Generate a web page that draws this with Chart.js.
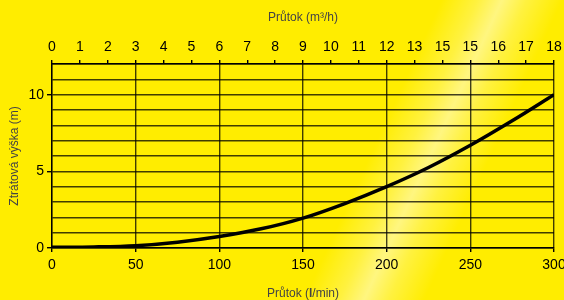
<!DOCTYPE html>
<html>
<head>
<meta charset="utf-8">
<script src="https://cdn.jsdelivr.net/npm/chart.js@4"></script>
<style>
  html, body { margin: 0; padding: 0; background: #ffed00; }
  #wrap { width: 564px; height: 300px; position: relative; }
</style>
</head>
<body>
<div id="wrap"><canvas id="lossChart"></canvas></div>
<script>
const flowLpm = [0, 25, 50, 75, 100, 125, 150, 175, 200, 225, 250, 275, 300];
const headLoss = [0.05, 0.07, 0.15, 0.38, 0.75, 1.25, 1.95, 2.9, 4.0, 5.25, 6.7, 8.3, 10.0];
const topTickLabels = ['0', '1', '2', '3', '4', '5', '6', '7', '8', '9', '10', '11', '12', '13', '15', '15', '16', '17', '18'];
const leftTickLabels = ['0', '5', '10'];
// bottom title, the "l" is printed bold in the original
const bottomTitleParts = [['Průtok (', false], ['l', true], ['/min)', false]];

const gridColor = 'rgba(0, 0, 0, 0.75)';
const fontName = "'Liberation Sans', Arial, sans-serif";

// yellow background with the light diagonal glare
const glare = {
  id: 'glare',
  beforeDraw(chart) {
    const c = chart.ctx;
    c.save();
    c.fillStyle = '#ffed00';
    c.fillRect(0, 0, chart.width, chart.height);
    const cx = 433, cy = 150, w = 55;
    const nx = 0.908, ny = 0.418;
    const g = c.createLinearGradient(cx - nx * w, cy - ny * w, cx + nx * w, cy + ny * w);
    g.addColorStop(0, 'rgba(255,255,255,0)');
    g.addColorStop(0.3, 'rgba(255,255,255,0.25)');
    g.addColorStop(0.5, 'rgba(255,255,255,0.5)');
    g.addColorStop(0.7, 'rgba(255,255,255,0.25)');
    g.addColorStop(1, 'rgba(255,255,255,0)');
    c.fillStyle = g;
    c.fillRect(0, 0, chart.width, chart.height);
    c.restore();
  }
};

// mixed-weight title under the bottom axis
const bottomTitle = {
  id: 'bottomTitle',
  afterDraw(chart) {
    const c = chart.ctx;
    const area = chart.chartArea;
    c.save();
    c.fillStyle = '#444';
    c.textBaseline = 'middle';
    c.textAlign = 'left';
    let total = 0;
    const widths = bottomTitleParts.map(([t, bold]) => {
      c.font = (bold ? 'bold ' : '') + '12px ' + fontName;
      const w = c.measureText(t).width;
      total += w;
      return w;
    });
    let x = (area.left + area.right) / 2 - total / 2;
    const y = chart.height - 6;
    bottomTitleParts.forEach(([t, bold], i) => {
      c.font = (bold ? 'bold ' : '') + '12px ' + fontName;
      c.fillText(t, x, y);
      x += widths[i];
    });
    c.restore();
  }
};

// let the edge labels hang over the plot border like in the original
function fixX(s, h) {
  s.height = h;
  s.paddingLeft = 0;
  s.paddingRight = 0;
}

const ctx = document.getElementById('lossChart');

new Chart(ctx, {
  type: 'line',
  data: {
    datasets: [
      {
        label: 'Ztrátová výška',
        data: flowLpm.map((v, i) => ({ x: v, y: headLoss[i] })),
        borderColor: '#000',
        borderWidth: 3.5,
        pointRadius: 0,
        cubicInterpolationMode: 'monotone',
        xAxisID: 'x',
        yAxisID: 'y'
      }
    ]
  },
  plugins: [glare, bottomTitle],
  options: {
    responsive: true,
    maintainAspectRatio: false,
    animation: false,
    layout: { padding: { left: 0, right: 10, top: 0, bottom: 0 } },
    plugins: {
      legend: { display: false },
      tooltip: { enabled: false }
    },
    scales: {
      x: {
        type: 'linear',
        position: 'bottom',
        min: 0,
        max: 300,
        afterFit: (s) => fixX(s, 52),
        ticks: {
          stepSize: 50,
          autoSkip: false,
          maxRotation: 0,
          padding: 5,
          color: '#000',
          font: { family: fontName, size: 14 }
        },
        grid: { color: gridColor, lineWidth: 1.4, tickLength: 4, tickColor: '#000' },
        border: { color: '#000', width: 1.4 },
        title: { display: false }
      },
      x2: {
        type: 'linear',
        position: 'top',
        min: 0,
        max: 18,
        afterFit: (s) => fixX(s, 64),
        ticks: {
          stepSize: 1,
          autoSkip: false,
          maxRotation: 0,
          padding: 4,
          color: '#000',
          font: { family: fontName, size: 14 },
          callback: (v, i) => topTickLabels[i]
        },
        grid: { drawOnChartArea: false, tickLength: 4, tickColor: '#000', lineWidth: 1.4 },
        border: { color: '#000', width: 1.4 },
        title: {
          display: true,
          text: 'Průtok (m³/h)',
          color: '#444',
          padding: { top: 12, bottom: 0 },
          font: { family: fontName, size: 12, lineHeight: 1 }
        }
      },
      y: {
        min: 0,
        max: 12,
        afterFit: (s) => { s.width = 52; s.paddingTop = 0; s.paddingBottom = 0; },
        ticks: {
          stepSize: 1,
          autoSkip: false,
          padding: 3,
          color: '#000',
          font: { family: fontName, size: 14 },
          callback: (v) => (v % 5 === 0 ? leftTickLabels[v / 5] : '')
        },
        grid: {
          color: gridColor,
          lineWidth: 1.4,
          tickLength: 5,
          tickColor: (c) => (c.tick && c.tick.value % 5 === 0 ? '#000' : 'rgba(0,0,0,0)')
        },
        border: { color: '#000', width: 1.4 },
        title: {
          display: true,
          text: 'Ztrátová výška (m)',
          color: '#444',
          padding: { top: 9, bottom: 0 },
          font: { family: fontName, size: 12, lineHeight: 1 }
        }
      }
    }
  }
});
</script>
</body>
</html>
